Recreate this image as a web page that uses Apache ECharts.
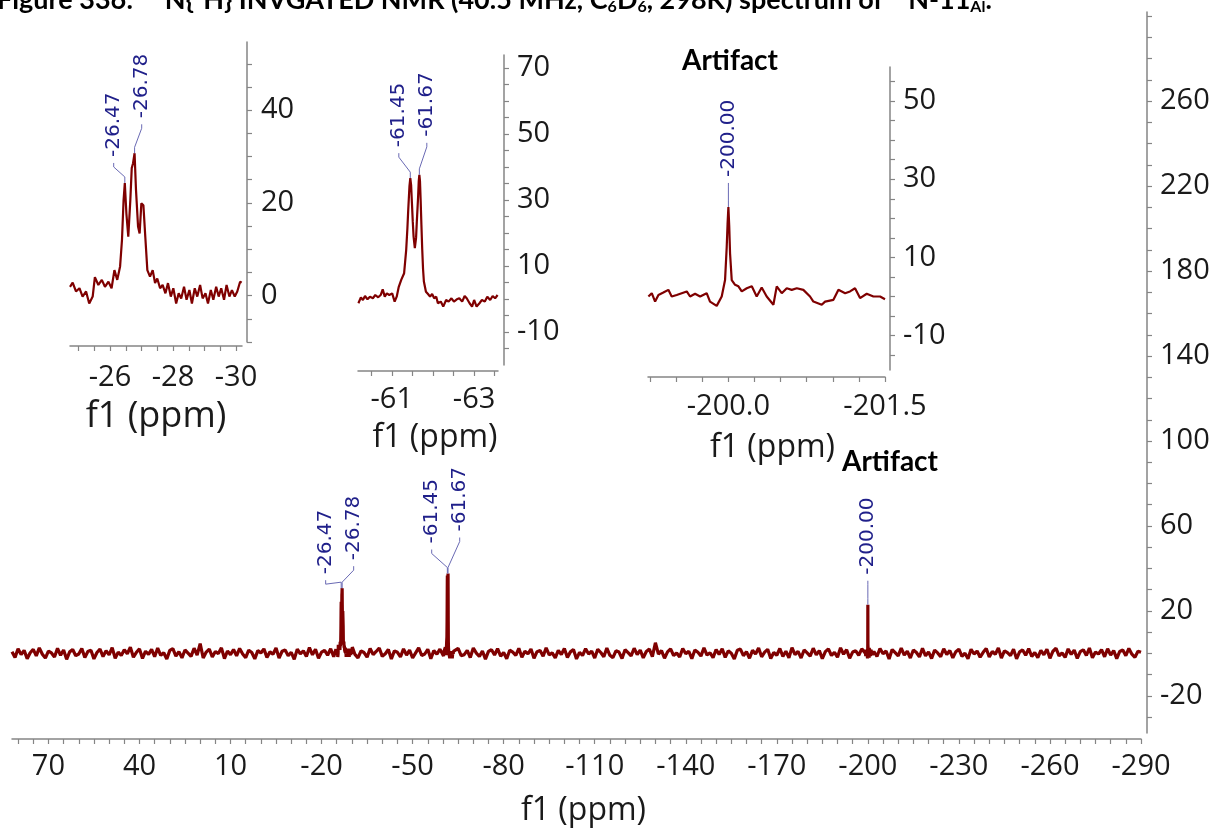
<!DOCTYPE html>
<html>
<head>
<meta charset="utf-8">
<script src="https://cdn.jsdelivr.net/npm/echarts@6.0.0/dist/echarts.min.js"></script>
<style>
  html, body { margin: 0; padding: 0; background: #ffffff; }
  #chart { width: 1218px; height: 832px; }
</style>
</head>
<body>
<div id="chart"></div>
<script>
// ---- Full 15N sweep: baseline intensities sampled every 1 ppm from 82 ppm down to -290 ppm ----
const baselineStartPpm = 82;
const baselineStepPpm = 1;
const baselineNoise = [
  0.8,-1.9,2.2,-0.6,1.4,-2.5,0.3,1.9,-1.2,2.6,-0.4,-2.2,1.1,0.2,-1.7,2.4,-0.9,1.6,-2.8,0.7,
  1.8,-1.1,-0.3,2.3,-2.0,0.9,1.5,-2.6,0.4,2.0,-1.5,1.2,-0.7,2.7,-2.3,0.6,-1.0,1.7,-0.2,2.9,
  -1.8,0.5,2.1,-2.4,1.0,-0.5,1.9,-1.6,2.5,-0.9,0.3,-2.7,1.4,2.2,-1.3,0.8,-2.1,1.6,0.1,-1.4,
  2.4,-0.8,4.6,-2.2,0.6,2.0,-1.7,0.9,-0.1,2.6,-2.5,1.1,-0.6,1.8,-1.2,2.3,-0.3,-2.0,1.5,0.4,
  -2.6,1.3,0.2,2.1,-1.9,0.7,-0.4,2.5,-2.2,1.0,1.6,-1.1,0.5,-2.8,2.0,-0.2,1.2,-1.5,2.7,-0.7,
  1.9,-2.3,0.6,1.4,-0.9,2.2,-1.6,0.3,-2.4,1.7,0.9,-1.3,2.4,-0.5,-2.1,1.1,0.4,-1.8,2.3,-0.6,
  0.9,2.5,-1.4,-0.2,1.8,-2.6,1.2,0.5,-1.7,2.1,-0.8,1.5,-2.2,0.2,2.6,-1.0,-0.3,1.9,-2.5,1.3,
  -0.4,2.0,-1.6,0.8,1.6,-2.4,0.3,2.3,-1.1,-0.6,1.4,-2.0,2.5,0.1,-1.5,1.1,-2.7,0.9,1.7,-0.8,
  2.2,-1.3,0.4,-2.5,1.5,0.6,-0.9,2.4,-1.8,1.0,-0.2,2.0,-2.3,0.8,1.3,-1.4,2.6,-0.7,0.2,-2.1,
  1.4,-0.5,2.3,-1.9,0.7,1.8,-2.6,0.5,-1.0,2.2,-0.3,1.1,-2.2,1.9,0.4,-1.6,2.5,-0.9,-2.0,1.2,
  0.6,-2.4,1.7,0.3,-1.2,2.4,-0.6,1.5,-2.1,0.9,2.0,-1.5,5.0,-0.4,1.3,-2.3,0.7,2.1,-1.0,0.2,
  -1.7,2.3,-0.2,1.0,-2.5,1.6,0.5,-1.3,2.6,-0.8,0.3,-2.0,1.8,-0.5,2.2,-1.9,1.2,0.1,-2.6,1.5,
  2.0,-1.1,0.8,-2.3,1.4,-0.3,2.5,-1.6,0.6,1.9,-2.4,0.4,-0.9,2.3,-1.4,1.0,-2.1,2.7,-0.6,0.9,
  -2.2,1.6,0.2,-1.3,2.4,-0.7,1.3,-2.5,0.8,2.1,-1.0,0.5,-1.8,2.6,-0.4,1.7,-2.3,0.6,1.2,-0.9,
  2.1,-0.6,1.4,-2.0,0.9,-1.5,2.3,-0.2,1.1,-2.6,1.8,0.3,-1.2,2.5,-0.8,1.0,-2.2,1.6,0.4,-1.7,
  2.4,-1.2,0.7,-2.4,1.5,0.2,-1.6,2.2,-0.5,1.3,-2.1,0.8,2.0,-1.4,0.1,-2.5,1.9,-0.3,1.1,-1.8,
  0.5,2.3,-1.7,0.9,-0.4,2.6,-2.2,1.2,0.3,-1.1,2.0,-2.6,0.7,1.6,-0.9,2.2,-1.5,0.4,-2.0,1.4,
  -0.7,1.9,-2.3,1.0,2.4,-1.2,0.2,-1.9,2.1,-0.5,1.5,-2.4,0.8,1.7,-1.0,2.5,-2.1,0.6,-0.3,1.8,
  -1.6,2.2,-0.8,1.3,-2.5,0.9,1.6,-1.1,2.3,-0.4,-1.9,1.0,0.5
];

// ---- Expansion around -26.6 ppm: [ppm, intensity] ----
const expansion1 = [
  [-24.73,1.9],[-24.815,2.8],[-24.92,0.9],[-25.03,1.6],[-25.13,-0.2],[-25.24,0.9],[-25.34,-1.7],
  [-25.45,-0.2],[-25.52,4.0],[-25.63,2.3],[-25.74,3.4],[-25.84,1.9],[-25.95,3.0],[-26.05,1.6],
  [-26.14,5.5],[-26.23,3.4],[-26.32,6.3],[-26.38,12.0],[-26.43,20.5],[-26.47,24.3],[-26.52,17.7],
  [-26.58,12.7],[-26.645,20.6],[-26.69,27.5],[-26.73,28.5],[-26.78,30.7],[-26.825,22.8],[-26.89,14.9],
  [-26.94,13.4],[-26.995,19.9],[-27.06,19.5],[-27.12,12.7],[-27.185,5.5],[-27.27,4.1],[-27.355,5.5],
  [-27.43,2.7],[-27.50,3.7],[-27.59,1.6],[-27.67,2.3],[-27.76,0.5],[-27.84,2.7],[-27.93,-0.2],
  [-28.01,1.6],[-28.10,-1.7],[-28.18,0.5],[-28.26,-0.6],[-28.35,1.9],[-28.43,-0.9],[-28.52,1.2],
  [-28.60,-1.7],[-28.69,1.6],[-28.77,-0.2],[-28.86,2.3],[-28.94,-0.6],[-29.03,0.5],[-29.11,-1.7],
  [-29.20,1.2],[-29.28,-0.9],[-29.37,1.9],[-29.45,-0.2],[-29.53,1.6],[-29.62,-0.9],[-29.70,2.3],
  [-29.79,-0.2],[-29.87,1.2],[-29.96,-0.2],[-30.04,0.9],[-30.13,3.0],[-30.18,2.8]
];

// ---- Expansion around -61.5 ppm ----
const expansion2 = [
  [-60.19,-1.3],[-60.25,0.5],[-60.30,-0.3],[-60.35,0.9],[-60.41,-0.1],[-60.47,0.7],[-60.54,0.2],
  [-60.60,1.2],[-60.67,0.5],[-60.73,1.2],[-60.78,2.9],[-60.83,0.7],[-60.88,1.7],[-60.94,1.2],
  [-61.01,1.7],[-61.07,-0.8],[-61.12,0.7],[-61.17,3.7],[-61.23,5.8],[-61.30,7.8],[-61.35,14.8],
  [-61.38,21.5],[-61.40,27.0],[-61.43,34.2],[-61.45,36.6],[-61.47,34.5],[-61.49,29.0],[-61.51,23.5],
  [-61.53,18.9],[-61.56,15.4],[-61.59,18.5],[-61.61,23.8],[-61.64,31.0],[-61.655,35.6],[-61.67,37.6],
  [-61.685,35.8],[-61.70,30.5],[-61.72,22.5],[-61.74,15.0],[-61.76,9.0],[-61.78,5.3],[-61.83,2.2],
  [-61.88,1.5],[-61.93,0.7],[-61.98,1.5],[-62.03,0.2],[-62.08,0.7],[-62.12,-1.3],[-62.19,-0.8],
  [-62.25,-2.3],[-62.32,-0.3],[-62.38,-0.8],[-62.45,0.2],[-62.51,-0.8],[-62.58,-0.1],[-62.64,0.2],
  [-62.71,-0.8],[-62.77,0.9],[-62.82,0.2],[-62.89,-1.3],[-62.95,-2.3],[-63.00,-0.3],[-63.06,-2.3],
  [-63.13,-1.3],[-63.19,-0.3],[-63.26,-0.8],[-63.32,0.7],[-63.39,-0.3],[-63.45,0.9],[-63.51,0.2],
  [-63.57,1.2]
];

// ---- Expansion around -200 ppm (artifact) ----
const expansion3 = [
  [-199.234,0.0],[-199.266,0.85],[-199.298,-1.3],[-199.33,0.4],[-199.377,1.0],[-199.425,1.7],
  [-199.457,0.0],[-199.505,0.4],[-199.601,1.3],[-199.633,0.0],[-199.681,0.7],[-199.729,0.0],
  [-199.792,0.85],[-199.824,-1.3],[-199.888,-2.4],[-199.936,0.0],[-199.968,4.2],[-199.984,12.7],
  [-199.992,18.5],[-200.00,22.9],[-200.008,18.0],[-200.016,11.0],[-200.032,4.2],[-200.064,3.0],
  [-200.096,2.6],[-200.128,1.3],[-200.176,2.1],[-200.224,2.6],[-200.271,0.0],[-200.319,2.3],
  [-200.367,0.0],[-200.431,-2.1],[-200.463,2.6],[-200.511,0.85],[-200.559,2.1],[-200.607,1.7],
  [-200.655,2.1],[-200.718,1.7],[-200.782,0.0],[-200.814,-1.3],[-200.894,-2.1],[-200.926,-1.3],
  [-201.006,-0.85],[-201.054,1.7],[-201.118,0.85],[-201.165,1.3],[-201.213,2.1],[-201.261,-0.4],
  [-201.325,0.7],[-201.389,0.0],[-201.453,0.0],[-201.5,-0.7]
];

// ---- Picked peaks (ppm), grouped by multiplet ----
const peakGroups = [
  [-26.47, -26.78],
  [-61.45, -61.67],
  [-200.00]
];

// ---- Tick labels ----
const mainXTickLabels = [70, 40, 10, -20, -50, -80, -110, -140, -170, -200, -230, -260, -290];
const mainYTickLabels = [-20, 20, 60, 100, 140, 180, 220, 260];
const exp1XTickLabels = [-26, -28, -30];
const exp1YTickLabels = [0, 20, 40];
const exp2XTickLabels = [-61, -63];
const exp2YTickLabels = [-10, 10, 30, 50, 70];
const exp3XTickLabels = [-200.0, -201.5];
const exp3YTickLabels = [-10, 10, 30, 50];

const axisNameText = 'f1 (ppm)';
const artifactText = 'Artifact';
const figureTitle = 'Figure 336:  {sup|15}N{{sup|1}H} INVGATED NMR (40.5 MHz, C{sub|6}D{sub|6}, 298K) spectrum of {sup|15}N-11{sub|Al}.';

// ---------------------------------------------------------------------------
const SPECTRUM_COLOR = '#7f0000';
const AXIS_COLOR = '#858585';
const TEXT_COLOR = '#1a1a1a';
const PEAK_TEXT_COLOR = '#20208a';
const PEAK_LINK_COLOR = '#6a6ab4';
const TICK_FONT = 'Open Sans';

function steps(from, to, step) {
  const out = [];
  const n = Math.round((to - from) / step);
  for (let i = 0; i <= n; i++) out.push(Math.round((from + i * step) * 1000) / 1000);
  return out;
}

// Full spectrum: baseline samples outside the expanded windows + the expanded traces
const expansions = [expansion1, expansion2, expansion3];
const windows = expansions.map(e => [Math.min(...e.map(p => p[0])), Math.max(...e.map(p => p[0]))]);
const fullSpectrum = [];
baselineNoise.forEach((v, i) => {
  const ppm = baselineStartPpm - i * baselineStepPpm;
  if (!windows.some(w => ppm >= w[0] - 0.3 && ppm <= w[1] + 0.3)) fullSpectrum.push([ppm, v]);
});
expansions.forEach(e => e.forEach(p => fullSpectrum.push(p)));
fullSpectrum.sort((a, b) => b[0] - a[0]);

function xAxisOf(gridIndex, o) {
  return {
    type: 'value', gridIndex, inverse: true, min: o.min, max: o.max, offset: o.offset,
    axisLine: { show: true, onZero: false, lineStyle: { color: AXIS_COLOR, width: 1.5 } },
    axisTick: { show: true, customValues: o.ticks, length: 5, lineStyle: { color: AXIS_COLOR, width: 1.2 } },
    axisLabel: {
      show: true, customValues: o.labels, margin: o.margin,
      formatter: o.fmt || (v => String(v)),
      fontFamily: TICK_FONT, fontSize: o.fontSize, color: TEXT_COLOR
    },
    splitLine: { show: false },
    name: axisNameText, nameLocation: 'middle', nameGap: o.nameGap,
    nameTextStyle: { fontFamily: TICK_FONT, fontSize: o.nameSize, color: TEXT_COLOR, padding: [0, 0, 0, o.namePad || 0] }
  };
}

function yAxisOf(gridIndex, o) {
  return {
    type: 'value', gridIndex, position: 'right', min: o.min, max: o.max, offset: o.offset,
    axisLine: { show: true, onZero: false, lineStyle: { color: AXIS_COLOR, width: 1.5 } },
    axisTick: { show: true, customValues: o.ticks, length: 5, lineStyle: { color: AXIS_COLOR, width: 1.2 } },
    axisLabel: {
      show: true, customValues: o.labels, margin: o.margin,
      fontFamily: TICK_FONT, fontSize: o.fontSize, color: TEXT_COLOR
    },
    splitLine: { show: false }
  };
}

function spectrumSeries(gridIndex, data, width) {
  return {
    type: 'line', xAxisIndex: gridIndex, yAxisIndex: gridIndex, data,
    showSymbol: false, symbol: 'none', silent: true, z: 3,
    lineStyle: { color: SPECTRUM_COLOR, width }
  };
}

// Rotated peak labels with bracket connectors
function peakLabelSeries(gridIndex, spectrum, layout) {
  const items = [];
  peakGroups.forEach((grp, g) => {
    const pts = grp.map(p => spectrum.find(q => q[0] === p));
    if (pts.some(p => !p)) return;
    const top = Math.max(...pts.map(p => p[1]));
    grp.forEach((p, i) => items.push([p, layout.merged ? top : pts[i][1], i, grp.length, g]));
  });
  return {
    type: 'custom', coordinateSystem: 'cartesian2d', xAxisIndex: gridIndex, yAxisIndex: gridIndex,
    clip: false, silent: true, z: 6, data: items,
    renderItem(params, api) {
      const ppm = api.value(0), i = api.value(2), n = api.value(3), g = api.value(4);
      const pt = api.coord([ppm, api.value(1)]);
      let lx = pt[0];
      if (n > 1) {
        const cx = peakGroups[g].reduce((s, p) => s + api.coord([p, 0])[0], 0) / n;
        lx = cx - 2 + (i - (n - 1) / 2) * 28;
      }
      const b = pt[1] - layout.gaps[g] - i * layout.staggers[g];
      return {
        type: 'group',
        children: [
          {
            type: 'polyline',
            shape: { points: [[lx, b + 6], [lx, b + 10], [pt[0], pt[1] - 6], [pt[0], pt[1]]] },
            style: { stroke: PEAK_LINK_COLOR, lineWidth: 1, fill: null }
          },
          {
            type: 'text', x: lx, y: b, rotation: Math.PI / 2,
            style: {
              text: ppm.toFixed(2), fill: PEAK_TEXT_COLOR,
              fontFamily: 'DejaVu Sans', fontSize: 20,
              align: 'left', verticalAlign: 'middle'
            }
          }
        ]
      };
    }
  };
}

const option = {
  backgroundColor: '#ffffff',
  animation: false,
  grid: [
    { left: 12, top: 12, width: 1129, height: 725 },
    { left: 70, top: 42, width: 172, height: 300 },
    { left: 358, top: 55, width: 140, height: 310 },
    { left: 648, top: 67, width: 237, height: 303 }
  ],
  xAxis: [
    xAxisOf(0, { min: -290, max: 82, offset: 6, ticks: steps(-290, 80, 5), labels: mainXTickLabels,
      margin: 13, fontSize: 29, nameGap: 56, nameSize: 32, namePad: 14 }),
    xAxisOf(1, { min: -30.19, max: -24.73, offset: 4, ticks: steps(-30, -25, 0.5), labels: exp1XTickLabels,
      margin: 17, fontSize: 29, nameGap: 53, nameSize: 36 }),
    xAxisOf(2, { min: -63.58, max: -60.18, offset: 6, ticks: steps(-63.5, -60.5, 0.5), labels: exp2XTickLabels,
      margin: 14, fontSize: 29, nameGap: 51, nameSize: 32, namePad: 14 }),
    xAxisOf(3, { min: -201.5, max: -199.23, offset: 7, ticks: steps(-201.5, -199.25, 0.25), labels: exp3XTickLabels,
      margin: 15, fontSize: 29, nameGap: 55, nameSize: 32, namePad: 12, fmt: v => v.toFixed(1) })
  ],
  yAxis: [
    yAxisOf(0, { min: -37.5, max: 302, offset: 6, ticks: steps(-30, 300, 10), labels: mainYTickLabels, margin: 13, fontSize: 29 }),
    yAxisOf(1, { min: -10, max: 54.7, offset: 5, ticks: steps(-10, 50, 5), labels: exp1YTickLabels, margin: 14, fontSize: 29 }),
    yAxisOf(2, { min: -20, max: 73.9, offset: 6, ticks: steps(-15, 70, 5), labels: exp2YTickLabels, margin: 13, fontSize: 29 }),
    yAxisOf(3, { min: -18.8, max: 58.7, offset: 5, ticks: steps(-15, 55, 5), labels: exp3YTickLabels, margin: 13, fontSize: 29 })
  ],
  series: [
    spectrumSeries(0, fullSpectrum, 3.2),
    spectrumSeries(1, expansion1, 2.2),
    spectrumSeries(2, expansion2, 2.2),
    spectrumSeries(3, expansion3, 2.2),
    peakLabelSeries(0, fullSpectrum, { merged: true, gaps: [14, 30, 30], staggers: [14, 12, 0] }),
    peakLabelSeries(1, expansion1, { merged: false, gaps: [26, 0, 0], staggers: [9, 0, 0] }),
    peakLabelSeries(2, expansion2, { merged: false, gaps: [0, 31, 0], staggers: [0, 7, 0] }),
    peakLabelSeries(3, expansion3, { merged: false, gaps: [0, 0, 30], staggers: [0, 0, 0] })
  ],
  graphic: [
    {
      type: 'text', x: -3, y: 0, silent: true,
      style: {
        text: figureTitle, fill: '#000000', fontFamily: 'Lato', fontWeight: 'bold', fontSize: 27,
        align: 'left', verticalAlign: 'middle',
        rich: {
          sup: { fontFamily: 'Lato', fontWeight: 'bold', fontSize: 16, fill: '#000000', padding: [0, 0, 13, 0] },
          sub: { fontFamily: 'Lato', fontWeight: 'bold', fontSize: 16, fill: '#000000', padding: [13, 0, 0, 0] }
        }
      }
    },
    {
      type: 'text', x: 730, y: 61, silent: true,
      style: { text: artifactText, fill: '#000000', fontFamily: 'Lato', fontWeight: 'bold', fontSize: 28, align: 'center', verticalAlign: 'middle' }
    },
    {
      type: 'text', x: 890, y: 462, silent: true,
      style: { text: artifactText, fill: '#000000', fontFamily: 'Lato', fontWeight: 'bold', fontSize: 28, align: 'center', verticalAlign: 'middle' }
    }
  ]
};

const chart = echarts.init(document.getElementById('chart'), null, { renderer: 'canvas' });
chart.setOption(option);
</script>
</body>
</html>
